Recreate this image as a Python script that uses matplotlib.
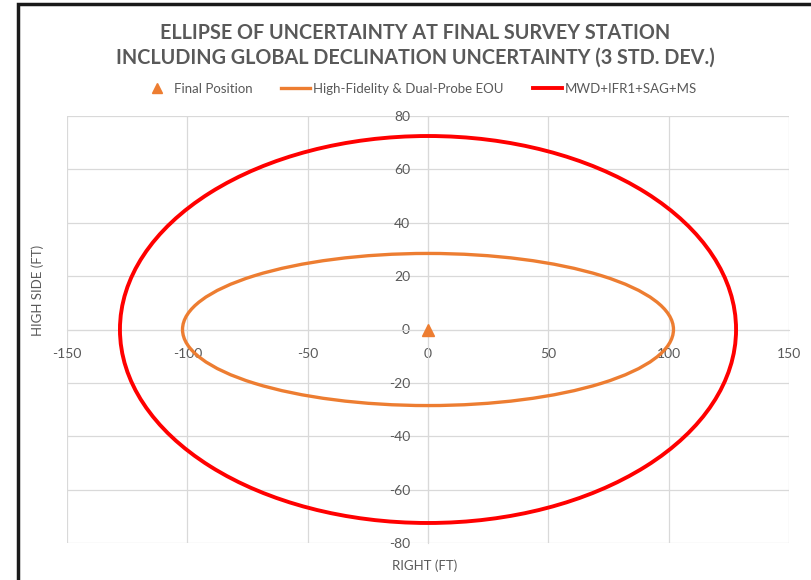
import numpy as np
import matplotlib
matplotlib.use("Agg")
import matplotlib.pyplot as plt
from matplotlib.patches import Ellipse, Rectangle

plt.rcParams['font.family'] = ['Lato', 'DejaVu Sans']
plt.rcParams['axes.unicode_minus'] = False

# data: semi-axes of each ellipse (ft)
series_names = ["High-Fidelity & Dual-Probe EOU", "MWD+IFR1+SAG+MS"]
semi_right = [102.0, 128.0]
semi_high = [28.5, 72.5]
series_colors = ["#ED7D31", "#FF0000"]
series_widths = [2.4, 2.8]
final_x = [0.0]
final_y = [0.0]
xticks = [-150, -100, -50, 0, 50, 100, 150]
yticks = [-80, -60, -40, -20, 0, 20, 40, 60, 80]

grey = "#595959"

fig = plt.figure(figsize=(8.11, 5.80), dpi=100)
ax = fig.add_axes([67 / 811, 37 / 580, 722 / 811, 427 / 580])

for name, a, b, c, w in zip(series_names, semi_right, semi_high, series_colors, series_widths):
    ax.add_patch(Ellipse((0, 0), 2 * a, 2 * b, fill=False, edgecolor=c, lw=w, zorder=3))

ax.plot(final_x, final_y, linestyle="none", marker="^", color="#ED7D31", markersize=8,
        zorder=4, label="Final Position")
for name, c, w in zip(series_names, series_colors, series_widths):
    ax.plot([], [], color=c, lw=w, label=name)

ax.set_xlim(xticks[0], xticks[-1])
ax.set_ylim(yticks[0], yticks[-1])
ax.set_xticks(xticks)
ax.set_yticks(yticks)
ax.grid(True, color="#D9D9D9", lw=0.9)
ax.set_axisbelow(True)

for s in ["top", "right"]:
    ax.spines[s].set_visible(False)
ax.spines["left"].set_position("zero")
ax.spines["bottom"].set_position("zero")
ax.spines["left"].set_color("#D9D9D9")
ax.spines["bottom"].set_color("#D9D9D9")
ax.tick_params(length=0, labelsize=10, labelcolor=grey, pad=13)

fig.text(0.046, 0.5, "HIGH SIDE (FT)", rotation=90, ha="center", va="center",
         fontsize=9.5, color=grey)
fig.text(0.524, 0.025, "RIGHT (FT)", ha="center", va="center", fontsize=9.5, color=grey)

fig.text(0.512, 0.922, "ELLIPSE OF UNCERTAINTY AT FINAL SURVEY STATION\nINCLUDING GLOBAL DECLINATION UNCERTAINTY (3 STD. DEV.)",
         ha="center", va="center", fontsize=14.2, fontweight="bold", color=grey, linespacing=1.3)

fig.legend(loc="center", bbox_to_anchor=(0.517, 0.847), ncol=3, frameon=False,
           fontsize=9.5, labelcolor=grey, handlelength=2.2, handletextpad=0.2,
           columnspacing=2.2, markerscale=0.85)

# outer frame
fig.patches.append(Rectangle((17.5 / 811, -0.01), 809 / 811, 575.5 / 580 + 0.01,
                             transform=fig.transFigure, fill=False, edgecolor="#1a1a1a", lw=2.5))

fig.savefig("out.png", dpi=100)
